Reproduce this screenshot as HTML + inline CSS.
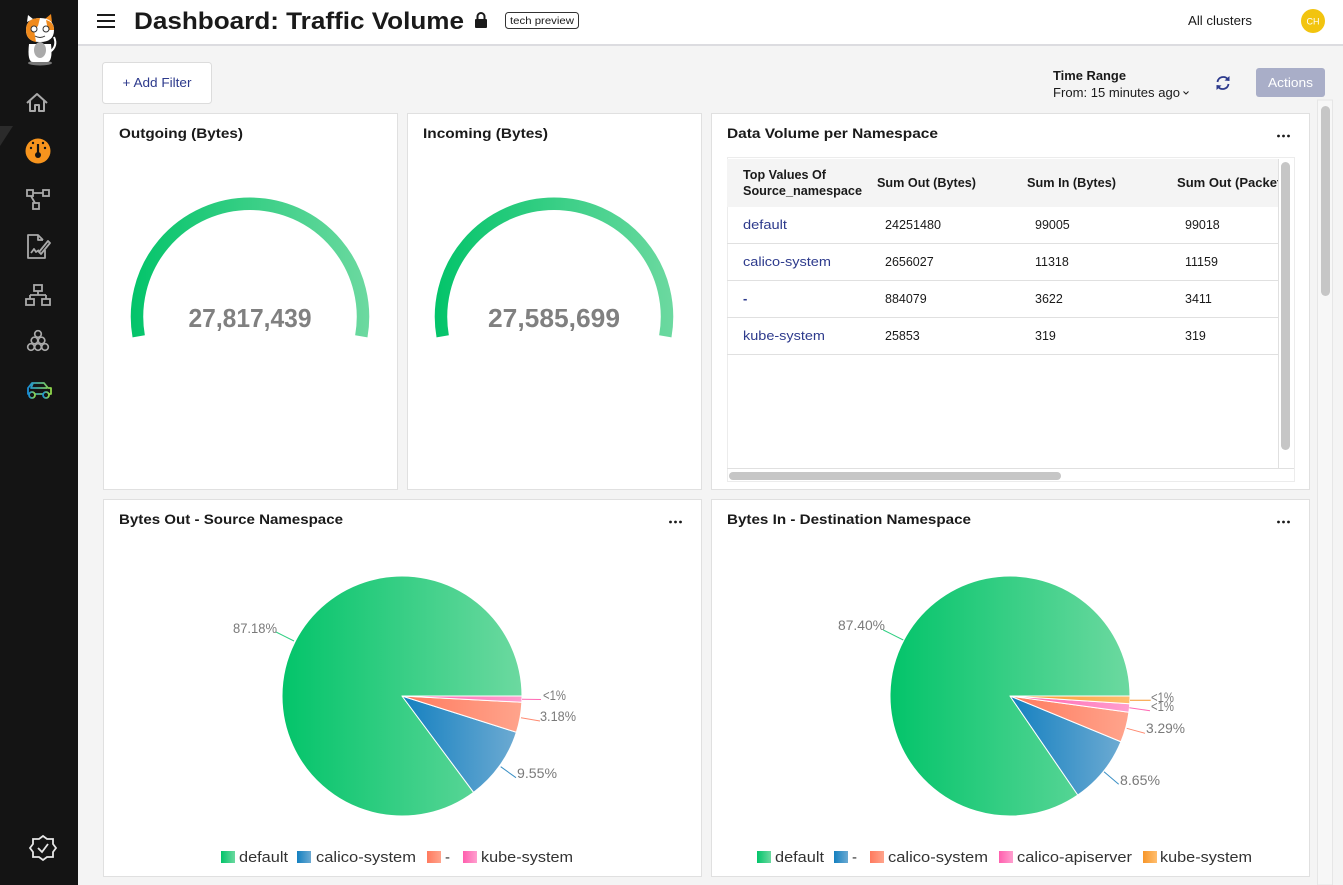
<!DOCTYPE html>
<html><head><meta charset="utf-8"><style>
html,body{margin:0;padding:0;width:1343px;height:885px;overflow:hidden;background:#f4f4f4}
svg{display:block;font-family:"Liberation Sans",sans-serif}
</style></head><body>
<svg width="1343" height="885" viewBox="0 0 1343 885" xmlns="http://www.w3.org/2000/svg">
<defs>
<linearGradient id="gG" x1="0" y1="0" x2="1" y2="0"><stop offset="0" stop-color="#03c46a"/><stop offset="1" stop-color="#6cd9a0"/></linearGradient>
<linearGradient id="gB" x1="0" y1="0" x2="1" y2="0"><stop offset="0" stop-color="#1480c0"/><stop offset="1" stop-color="#6caad2"/></linearGradient>
<linearGradient id="gO" x1="0" y1="0" x2="1" y2="0"><stop offset="0" stop-color="#ff7a5e"/><stop offset="1" stop-color="#ffa48c"/></linearGradient>
<linearGradient id="gP" x1="0" y1="0" x2="1" y2="0"><stop offset="0" stop-color="#ff5fae"/><stop offset="1" stop-color="#ff9fcf"/></linearGradient>
<linearGradient id="gY" x1="0" y1="0" x2="1" y2="0"><stop offset="0" stop-color="#f7962a"/><stop offset="1" stop-color="#ffbe6e"/></linearGradient>
<linearGradient id="gauge1" gradientUnits="userSpaceOnUse" x1="131" y1="0" x2="369" y2="0"><stop offset="0" stop-color="#03c46a"/><stop offset="1" stop-color="#6cd9a0"/></linearGradient>
<linearGradient id="gauge2" gradientUnits="userSpaceOnUse" x1="435" y1="0" x2="673" y2="0"><stop offset="0" stop-color="#03c46a"/><stop offset="1" stop-color="#6cd9a0"/></linearGradient>
<linearGradient id="car" x1="0" y1="0" x2="1" y2="0"><stop offset="0" stop-color="#1a8fd6"/><stop offset="1" stop-color="#8fd64a"/></linearGradient>
<clipPath id="tblclip"><rect x="727" y="150" width="551" height="320"/></clipPath>
</defs>

<rect x="0" y="0" width="1343" height="885" fill="#f4f4f4"/>
<rect x="0" y="0" width="78" height="885" fill="#141414"/>
<path d="M0,126 L13,126 L0,146 Z" fill="#2b2b2b"/>
<!-- cat logo -->
<ellipse cx="40" cy="63" rx="12" ry="2.5" fill="#777"/>
<path d="M29,44 Q27,62 33,62 L47,62 Q53,62 51,44 Z" fill="#fff"/>
<ellipse cx="40" cy="50" rx="6" ry="8" fill="#aaa"/>
<path d="M50,52 Q58,46 54,37" stroke="#fff" stroke-width="2" fill="none"/>
<path d="M27,22 L28,15 L33,19 Z" fill="#fff"/>
<path d="M45,19 L51,14 L52,22 Z" fill="#f08a1c"/>
<path d="M26,30 Q26,18 40,18 Q54,18 54,30 Q54,42 40,42 Q26,42 26,30 Z" fill="#fff"/>
<path d="M26,30 Q26,18 40,18 L38,26 L34,30 L36,42 Q26,40 26,30 Z" fill="#f08a1c"/>
<path d="M46,20 Q54,22 54,30 L48,30 Z" fill="#f08a1c"/>
<circle cx="34" cy="29" r="3" fill="#fff" stroke="#333" stroke-width="1"/>
<circle cx="46" cy="29" r="3" fill="#fff" stroke="#333" stroke-width="1"/>
<path d="M35,36 Q40,39 45,36" stroke="#333" stroke-width="1" fill="none"/>
<!-- home -->
<path d="M27,103 L37,94 L47,103 M30,100 V111 H35 V105 H39 V111 H44 V100" stroke="#a9a9a9" stroke-width="2" fill="none" stroke-linejoin="round"/>
<!-- dashboard -->
<circle cx="38" cy="151" r="12.5" fill="#f7941d"/>
<line x1="38" y1="144" x2="38" y2="154" stroke="#141414" stroke-width="2.2"/>
<circle cx="38" cy="155" r="3" fill="#141414"/>
<circle cx="31" cy="148" r="1.2" fill="#141414"/><circle cx="45" cy="148" r="1.2" fill="#141414"/>
<circle cx="33" cy="143" r="1.2" fill="#141414"/><circle cx="43" cy="143" r="1.2" fill="#141414"/>
<!-- flow -->
<g stroke="#a9a9a9" stroke-width="1.8" fill="none">
<rect x="27" y="190" width="6" height="6"/><rect x="43" y="190" width="6" height="6"/><rect x="33" y="203" width="6" height="6"/>
<path d="M33,193 H43 M31,196 L35,203"/>
</g>
<!-- doc -->
<g stroke="#a9a9a9" stroke-width="1.8" fill="none" stroke-linejoin="round">
<path d="M43,240 L38,235 H28 V258 H45 V250"/>
<path d="M38,235 V240 H43"/>
<path d="M31,253 L34,249 L36,252 L39,250"/>
<path d="M41,254 L50,243 L48,241 L39,252 Z"/>
</g>
<!-- network -->
<g stroke="#a9a9a9" stroke-width="1.8" fill="none">
<rect x="34" y="285" width="8" height="6"/>
<path d="M38,291 V295 M30,295 H46 M30,295 V299 M46,295 V299"/>
<rect x="26" y="299" width="8" height="6"/><rect x="42" y="299" width="8" height="6"/>
</g>
<!-- cluster -->
<g stroke="#a9a9a9" stroke-width="1.7" fill="none">
<circle cx="38" cy="334" r="3.3"/><circle cx="34.5" cy="340.5" r="3.3"/><circle cx="41.5" cy="340.5" r="3.3"/>
<circle cx="31" cy="347" r="3.3"/><circle cx="38" cy="347" r="3.3"/><circle cx="45" cy="347" r="3.3"/>
</g>
<!-- car -->
<g stroke="url(#car)" stroke-width="1.8" fill="none" stroke-linejoin="round">
<path d="M28,394 V388 L32,383 H44 L48,388 H51 V394 Z M33,383 L31,388 H47"/>
<circle cx="32" cy="395" r="3" fill="#141414"/><circle cx="46" cy="395" r="3" fill="#141414"/>
</g>
<!-- bottom badge -->
<g stroke="#e6e6e6" stroke-width="1.8" fill="none">
<path d="M43,836 L47,839 L53,839 L53,844 L56,848 L53,852 L53,857 L47,857 L43,860 L39,857 L33,857 L33,852 L30,848 L33,844 L33,839 L39,839 Z"/>
<path d="M38,848 L42,852 L48,844"/>
</g>

<!-- header -->
<rect x="78" y="0" width="1265" height="44" fill="#fff"/>
<rect x="78" y="44" width="1265" height="2" fill="#dcdce0"/>
<g stroke="#1a1a1a" stroke-width="2"><line x1="97" y1="15" x2="115" y2="15"/><line x1="97" y1="21" x2="115" y2="21"/><line x1="97" y1="27" x2="115" y2="27"/></g>
<text x="134" y="29" font-size="24" font-weight="bold" fill="#1a1a1a" textLength="330" lengthAdjust="spacingAndGlyphs">Dashboard: Traffic Volume</text>
<rect x="475" y="19" width="12" height="9" rx="1" fill="#1a1a1a"/>
<path d="M477.5,19.5 V16.5 A3.5,3.5 0 0 1 484.5,16.5 V19.5" stroke="#1a1a1a" stroke-width="2" fill="none"/>
<rect x="505.5" y="12.5" width="73" height="16" rx="3" fill="#fff" stroke="#333"/>
<text x="542" y="24" font-size="10.5" fill="#1a1a1a" text-anchor="middle" textLength="64" lengthAdjust="spacingAndGlyphs">tech preview</text>
<text x="1188" y="25" font-size="13" fill="#1a1a1a" textLength="64" lengthAdjust="spacingAndGlyphs">All clusters</text>
<circle cx="1313" cy="21" r="12" fill="#f2c40f"/>
<text x="1313" y="24.5" font-size="9" fill="#fff" text-anchor="middle">CH</text>

<!-- toolbar -->
<rect x="102.5" y="62.5" width="109" height="41" rx="3" fill="#fff" stroke="#dcdcdc"/>
<text x="157" y="87" font-size="12.5" fill="#2d3a8c" text-anchor="middle" textLength="69" lengthAdjust="spacingAndGlyphs">+ Add Filter</text>
<text x="1053" y="80" font-size="12.5" font-weight="bold" fill="#1a1a1a" textLength="73" lengthAdjust="spacingAndGlyphs">Time Range</text>
<text x="1053" y="97" font-size="12.5" fill="#1a1a1a" textLength="127" lengthAdjust="spacingAndGlyphs">From: 15 minutes ago</text>
<path d="M1183.5,91.5 L1186,94 L1188.5,91.5" stroke="#1a1a1a" stroke-width="1" fill="none"/>
<g stroke="#2d3a8c" stroke-width="1.8" fill="none">
<path d="M1217.5,82 A5.8,5.8 0 0 1 1228,79.5"/>
<path d="M1228.5,84 A5.8,5.8 0 0 1 1218,86.5"/>
</g>
<path d="M1229.5,76 L1229.5,81 L1224.5,80.5 Z" fill="#2d3a8c"/>
<path d="M1216.5,90 L1216.5,85 L1221.5,85.5 Z" fill="#2d3a8c"/>
<rect x="1256" y="68" width="69" height="29" rx="3" fill="#a9aec8"/>
<text x="1290.5" y="87" font-size="13" fill="#fff" text-anchor="middle" textLength="45" lengthAdjust="spacingAndGlyphs">Actions</text>

<!-- page scrollbar -->
<rect x="1317.5" y="100" width="15" height="785" fill="#f7f7f7" stroke="#e6e6e6"/>
<rect x="1321" y="106" width="9" height="190" rx="4.5" fill="#c6c6c6"/>

<!-- cards -->
<rect x="103.5" y="113.5" width="294" height="376" fill="#fff" stroke="#e0e0e0"/>
<rect x="407.5" y="113.5" width="294" height="376" fill="#fff" stroke="#e0e0e0"/>
<rect x="711.5" y="113.5" width="598" height="376" fill="#fff" stroke="#e0e0e0"/>
<rect x="103.5" y="499.5" width="598" height="377" fill="#fff" stroke="#e0e0e0"/>
<rect x="711.5" y="499.5" width="598" height="377" fill="#fff" stroke="#e0e0e0"/>

<g font-size="14" font-weight="bold" fill="#1a1a1a">
<text x="119" y="138" textLength="124" lengthAdjust="spacingAndGlyphs">Outgoing (Bytes)</text>
<text x="423" y="138" textLength="125" lengthAdjust="spacingAndGlyphs">Incoming (Bytes)</text>
<text x="727" y="138" textLength="211" lengthAdjust="spacingAndGlyphs">Data Volume per Namespace</text>
<text x="119" y="524" textLength="224" lengthAdjust="spacingAndGlyphs">Bytes Out - Source Namespace</text>
<text x="727" y="524" textLength="244" lengthAdjust="spacingAndGlyphs">Bytes In - Destination Namespace</text>
</g>
<g fill="#1a1a1a">
<circle cx="1278.5" cy="136" r="1.4"/><circle cx="1283.5" cy="136" r="1.4"/><circle cx="1288.5" cy="136" r="1.4"/>
<circle cx="670.5" cy="522" r="1.4"/><circle cx="675.5" cy="522" r="1.4"/><circle cx="680.5" cy="522" r="1.4"/>
<circle cx="1278.5" cy="522" r="1.4"/><circle cx="1283.5" cy="522" r="1.4"/><circle cx="1288.5" cy="522" r="1.4"/>
</g>

<!-- gauges -->
<path d="M138.7,336.3 A113,113 0 1 1 361.3,336.3" stroke="url(#gauge1)" stroke-width="12.5" fill="none"/>
<path d="M442.7,336.3 A113,113 0 1 1 665.3,336.3" stroke="url(#gauge2)" stroke-width="12.5" fill="none"/>
<text x="250" y="327" font-size="26" font-weight="bold" fill="#808080" text-anchor="middle" textLength="123" lengthAdjust="spacingAndGlyphs">27,817,439</text>
<text x="554" y="327" font-size="26" font-weight="bold" fill="#808080" text-anchor="middle" textLength="132" lengthAdjust="spacingAndGlyphs">27,585,699</text>

<!-- table -->
<rect x="727.5" y="157.5" width="567" height="324" fill="#fff" stroke="#ececec"/>
<rect x="727" y="159" width="551" height="48" fill="#f4f4f4"/>
<g stroke="#e0e0e0" stroke-width="1">
<line x1="727" y1="243.5" x2="1278" y2="243.5"/>
<line x1="727" y1="280.5" x2="1278" y2="280.5"/>
<line x1="727" y1="317.5" x2="1278" y2="317.5"/>
<line x1="727" y1="354.5" x2="1278" y2="354.5"/>
<line x1="1278.5" y1="159" x2="1278.5" y2="468"/>
<line x1="727" y1="468.5" x2="1294" y2="468.5"/>
</g>
<rect x="1281" y="162" width="9" height="288" rx="4.5" fill="#c6c6c6"/>
<rect x="729" y="472" width="332" height="8" rx="4" fill="#c6c6c6"/>
<g clip-path="url(#tblclip)" font-size="12.5" fill="#1a1a1a">
<g font-weight="bold">
<text x="743" y="179" textLength="83" lengthAdjust="spacingAndGlyphs">Top Values Of</text>
<text x="743" y="195" textLength="119" lengthAdjust="spacingAndGlyphs">Source_namespace</text>
<text x="877" y="187" textLength="99" lengthAdjust="spacingAndGlyphs">Sum Out (Bytes)</text>
<text x="1027" y="187" textLength="89" lengthAdjust="spacingAndGlyphs">Sum In (Bytes)</text>
<text x="1177" y="187" textLength="116" lengthAdjust="spacingAndGlyphs">Sum Out (Packets)</text>
</g>
<g fill="#2d3a8c" font-size="13">
<text x="743" y="229" textLength="44" lengthAdjust="spacingAndGlyphs">default</text>
<text x="743" y="266" textLength="88" lengthAdjust="spacingAndGlyphs">calico-system</text>
<text x="743" y="303" font-weight="bold">-</text>
<text x="743" y="340" textLength="82" lengthAdjust="spacingAndGlyphs">kube-system</text>
</g>
<text x="885" y="229" textLength="56" lengthAdjust="spacingAndGlyphs">24251480</text>
<text x="1035" y="229">99005</text>
<text x="1185" y="229">99018</text>
<text x="885" y="266">2656027</text>
<text x="1035" y="266">11318</text>
<text x="1185" y="266">11159</text>
<text x="885" y="303">884079</text>
<text x="1035" y="303">3622</text>
<text x="1185" y="303">3411</text>
<text x="885" y="340">25853</text>
<text x="1035" y="340">319</text>
<text x="1185" y="340">319</text>
</g>

<!-- pie 1 -->
<g stroke="#fff" stroke-width="1" stroke-linejoin="round">
<path d="M402,696 L473.55,792.34 A120,120 0 1 1 522,696 Z" fill="url(#gG)"/>
<path d="M402,696 L516.38,732.28 A120,120 0 0 1 473.55,792.34 Z" fill="url(#gB)"/>
<path d="M402,696 L521.84,702.28 A120,120 0 0 1 516.38,732.28 Z" fill="url(#gO)"/>
<path d="M402,696 L522,696 A120,120 0 0 1 521.84,702.28 Z" fill="url(#gP)"/>
</g>
<g stroke-width="1" fill="none">
<line x1="276" y1="632" x2="294" y2="641" stroke="#2fcf82"/>
<line x1="522" y1="699.3" x2="541" y2="699.5" stroke="#ff69b4"/>
<line x1="521" y1="717.7" x2="540" y2="721" stroke="#ff8a70"/>
<line x1="500.7" y1="766.7" x2="516" y2="777.7" stroke="#3a8fc4"/>
</g>
<g font-size="14" fill="#7a7a7a">
<text x="277" y="633" text-anchor="end" textLength="44" lengthAdjust="spacingAndGlyphs">87.18%</text>
<text x="543" y="700" textLength="23" lengthAdjust="spacingAndGlyphs">&lt;1%</text>
<text x="540" y="721" textLength="36" lengthAdjust="spacingAndGlyphs">3.18%</text>
<text x="517" y="778" textLength="40" lengthAdjust="spacingAndGlyphs">9.55%</text>
</g>

<!-- pie 2 -->
<g stroke="#fff" stroke-width="1" stroke-linejoin="round">
<path d="M1010,696 L1077.80,795.01 A120,120 0 1 1 1130,696 Z" fill="url(#gG)"/>
<path d="M1010,696 L1120.95,741.73 A120,120 0 0 1 1077.80,795.01 Z" fill="url(#gB)"/>
<path d="M1010,696 L1128.89,712.29 A120,120 0 0 1 1120.95,741.73 Z" fill="url(#gO)"/>
<path d="M1010,696 L1129.75,703.74 A120,120 0 0 1 1128.89,712.29 Z" fill="url(#gP)"/>
<path d="M1010,696 L1130,696 A120,120 0 0 1 1129.75,703.74 Z" fill="url(#gY)"/>
</g>
<g stroke-width="1" fill="none">
<line x1="883.3" y1="630" x2="903.3" y2="640" stroke="#2fcf82"/>
<line x1="1130" y1="700.3" x2="1150.7" y2="700.3" stroke="#f7962a"/>
<line x1="1129.3" y1="707.7" x2="1150" y2="710.7" stroke="#ff69b4"/>
<line x1="1126.7" y1="728.3" x2="1145" y2="733.3" stroke="#ff8a70"/>
<line x1="1104" y1="771.7" x2="1118.7" y2="784.3" stroke="#3a8fc4"/>
</g>
<g font-size="14" fill="#7a7a7a">
<text x="885" y="630" text-anchor="end" textLength="47" lengthAdjust="spacingAndGlyphs">87.40%</text>
<text x="1151" y="702" textLength="23" lengthAdjust="spacingAndGlyphs">&lt;1%</text>
<text x="1151" y="711" textLength="23" lengthAdjust="spacingAndGlyphs">&lt;1%</text>
<text x="1146" y="733" textLength="39" lengthAdjust="spacingAndGlyphs">3.29%</text>
<text x="1120" y="785" textLength="40" lengthAdjust="spacingAndGlyphs">8.65%</text>
</g>

<!-- legends -->
<g font-size="15" fill="#333">
<rect x="221" y="851" width="14" height="12" fill="url(#gG)"/>
<text x="239" y="862" textLength="49" lengthAdjust="spacingAndGlyphs">default</text>
<rect x="297" y="851" width="14" height="12" fill="url(#gB)"/>
<text x="316" y="862" textLength="100" lengthAdjust="spacingAndGlyphs">calico-system</text>
<rect x="427" y="851" width="14" height="12" fill="url(#gO)"/>
<text x="445" y="862">-</text>
<rect x="463" y="851" width="14" height="12" fill="url(#gP)"/>
<text x="481" y="862" textLength="92" lengthAdjust="spacingAndGlyphs">kube-system</text>

<rect x="757" y="851" width="14" height="12" fill="url(#gG)"/>
<text x="775" y="862" textLength="49" lengthAdjust="spacingAndGlyphs">default</text>
<rect x="834" y="851" width="14" height="12" fill="url(#gB)"/>
<text x="852" y="862">-</text>
<rect x="870" y="851" width="14" height="12" fill="url(#gO)"/>
<text x="888" y="862" textLength="100" lengthAdjust="spacingAndGlyphs">calico-system</text>
<rect x="999" y="851" width="14" height="12" fill="url(#gP)"/>
<text x="1017" y="862" textLength="115" lengthAdjust="spacingAndGlyphs">calico-apiserver</text>
<rect x="1143" y="851" width="14" height="12" fill="url(#gY)"/>
<text x="1160" y="862" textLength="92" lengthAdjust="spacingAndGlyphs">kube-system</text>
</g>
</svg>
</body></html>
